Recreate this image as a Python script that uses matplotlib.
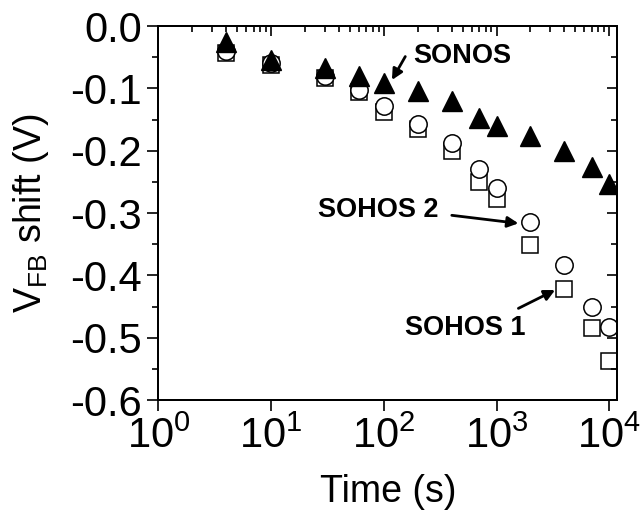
import numpy as np
import matplotlib
matplotlib.use("Agg")
import matplotlib.pyplot as plt

# stress time (s) and flat-band voltage shift (V)
time_s = [4, 10, 30, 60, 100, 200, 400, 700, 1000, 2000, 4000, 7000, 10000]
sonos = [-0.025, -0.055, -0.067, -0.080, -0.092, -0.105, -0.121, -0.148,
         -0.160, -0.176, -0.201, -0.226, -0.253]
sohos2 = [-0.040, -0.060, -0.080, -0.103, -0.128, -0.158, -0.187, -0.229,
          -0.260, -0.314, -0.383, -0.450, -0.483]
sohos1 = [-0.044, -0.063, -0.084, -0.106, -0.138, -0.165, -0.200, -0.250,
          -0.278, -0.351, -0.422, -0.484, -0.537]

yticks = [0.0, -0.1, -0.2, -0.3, -0.4, -0.5, -0.6]
ytick_labels = ["0.0", "-0.1", "-0.2", "-0.3", "-0.4", "-0.5", "-0.6"]
xticks = [1, 10, 100, 1000, 10000]
xtick_labels = [r"$10^{0}$", r"$10^{1}$", r"$10^{2}$", r"$10^{3}$", r"$10^{4}$"]

plt.rcParams["font.family"] = ["Liberation Sans", "DejaVu Sans"]
plt.rcParams["mathtext.fontset"] = "custom"
plt.rcParams["mathtext.rm"] = "Liberation Sans"
plt.rcParams["mathtext.it"] = "Liberation Sans:italic"
plt.rcParams["mathtext.bf"] = "Liberation Sans:bold"
plt.rcParams["axes.unicode_minus"] = False

fig = plt.figure(figsize=(6.43, 5.16), dpi=100)
ax = fig.add_axes([0.2465, 0.2248, 0.7135, 0.7248])

xlim = (1, 1.18e4)
ylim = (-0.6, 0.0)

ax.plot(time_s, sohos1, ls="none", marker="s", ms=11, mfc="white",
        mec="black", mew=1.1, zorder=3)
ax.plot(time_s, sohos2, ls="none", marker="o", ms=12.5, mfc="white",
        mec="black", mew=1.1, zorder=4)
ax.plot(time_s, sonos, ls="none", marker="^", ms=14.5, mfc="black",
        mec="black", mew=1.0, zorder=5)

ax.set_xscale("log")
ax.set_xlim(xlim)
ax.set_ylim(ylim)
ax.set_xticks(xticks)
ax.set_xticklabels(xtick_labels)
ax.set_yticks(yticks)
ax.set_yticklabels(ytick_labels)
ax.set_yticks(np.arange(-0.55, 0.0, 0.1), minor=True)
ax.xaxis.set_minor_locator(matplotlib.ticker.LogLocator(base=10, subs=np.arange(2, 10)))
ax.xaxis.set_minor_formatter(matplotlib.ticker.NullFormatter())

ax.tick_params(which="major", direction="out", length=8, width=1.2, labelsize=30)
ax.tick_params(which="minor", direction="out", length=4.5, width=1.2)
ax.tick_params(axis="y", pad=4)
ax.tick_params(axis="x", pad=4)
for sp in ax.spines.values():
    sp.set_linewidth(1.3)

# mirrored ticks on top and right, pointing inward
top = ax.twiny()
top.set_xscale("log")
top.set_xlim(xlim)
top.set_xticks(xticks)
top.xaxis.set_minor_locator(matplotlib.ticker.LogLocator(base=10, subs=np.arange(2, 10)))
top.tick_params(which="both", direction="in", labeltop=False, width=1.2)
top.tick_params(which="major", length=7)
top.tick_params(which="minor", length=4)
top.xaxis.set_minor_formatter(matplotlib.ticker.NullFormatter())

right = ax.twinx()
right.set_ylim(ylim)
right.set_yticks(yticks)
right.set_yticks(np.arange(-0.55, 0.0, 0.1), minor=True)
right.tick_params(which="both", direction="in", labelright=False, width=1.2)
right.tick_params(which="major", length=7)
right.tick_params(which="minor", length=4)
for a in (top, right):
    for sp in a.spines.values():
        sp.set_linewidth(1.3)

ax.set_xlabel("Time (s)", fontsize=27, labelpad=12)
ax.set_ylabel(r"V$_{\mathrm{FB}}$ shift (V)", fontsize=27, labelpad=14)

arrow = dict(arrowstyle="-|>", lw=2, color="black", mutation_scale=16,
             shrinkA=0, shrinkB=0)
ax.annotate("", xy=(118, -0.0866), xytext=(155, -0.049), arrowprops=arrow, zorder=6)
ax.annotate("", xy=(1564, -0.3166), xytext=(401, -0.3037), arrowprops=arrow, zorder=6)
ax.annotate("", xy=(3311, -0.4236), xytext=(1564, -0.453), arrowprops=arrow, zorder=6)

ax.text(182, -0.0594, "SONOS", fontsize=19.5, fontweight="bold", ha="left", va="baseline")
ax.text(26.1, -0.306, "SOHOS 2", fontsize=19.5, fontweight="bold", ha="left", va="baseline")
ax.text(154.5, -0.4957, "SOHOS 1", fontsize=19.5, fontweight="bold", ha="left", va="baseline")

fig.savefig("out.png", dpi=100)
